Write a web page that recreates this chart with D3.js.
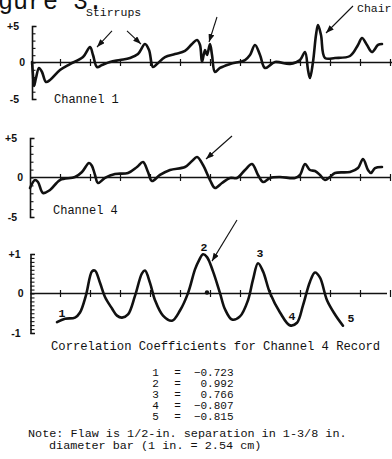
<!DOCTYPE html>
<html>
<head>
<meta charset="utf-8">
<script src="https://cdn.jsdelivr.net/npm/d3@7"></script>
<style>
  html, body { margin: 0; padding: 0; background: #fff; }
  svg { display: block; }
  text { font-family: "Liberation Mono", "DejaVu Sans Mono", monospace; fill: #111; }
</style>
</head>
<body>
<svg id="chart" width="392" height="459"></svg>
<script>
// ---- Record time base (chart divisions) ----
const xTickValues = [1, 2, 3, 4, 5, 6, 7, 8, 9, 10, 11, 12];

// ---- Channel 1 trace ----
const channel1Time = [0.067,0.1,0.133,0.2,0.3,0.4,0.533,0.667,1.0,1.333,1.767,2.0,2.1,2.233,2.4,2.667,3.0,3.333,3.6,3.833,3.967,4.1,4.233,4.5,4.833,5.167,5.4,5.567,5.667,5.733,5.833,5.9,6.0,6.067,6.167,6.333,6.667,7.167,7.333,7.5,7.667,7.833,8.167,8.667,9.0,9.167,9.267,9.333,9.433,9.533,9.6,9.7,9.833,10.167,10.667,10.933,11.067,11.233,11.4,11.6,11.733];
const channel1Amp = [0.07,-1.71,-3.22,-2.12,-0.75,-1.30,-2.67,-2.40,-1.03,-0.21,0.75,2.12,1.03,-0.62,-0.34,0.07,0.34,0.62,1.16,2.53,1.71,-0.62,-0.21,0.75,1.16,1.58,2.53,3.08,2.40,0.07,1.71,1.03,2.53,1.03,-1.30,-0.75,-0.21,0.34,1.03,2.40,1.03,-0.75,0.07,-0.21,0.34,1.44,-1.03,-2.12,0.07,3.77,5.14,3.77,0.62,0.62,0.89,2.40,3.36,2.40,1.44,2.40,2.53];

// ---- Channel 4 trace ----
const channel4Time = [0,0.167,0.267,0.433,0.667,1.0,1.5,1.733,1.967,2.067,2.167,2.267,2.5,2.833,3.267,3.567,3.767,3.933,4.067,4.333,4.667,5.167,5.4,5.567,5.767,6.0,6.167,6.4,6.667,6.9,7.167,7.4,7.6,7.767,8.0,8.333,8.833,9.0,9.167,9.333,9.5,9.667,9.833,10.0,10.167,10.667,10.933,11.1,11.267,11.367,11.5,11.733];
const channel4Amp = [-1.33,-0.32,-0.57,-1.96,-1.58,-0.32,0.06,0.70,1.84,1.46,0.32,-0.70,-0.06,0.44,0.57,1.33,1.96,0.70,-0.44,0.32,0.95,1.33,2.09,2.59,1.58,-0.32,-1.33,-0.70,-0.06,-0.06,0.95,1.71,0.32,-0.57,-0.06,0.06,-0.06,0.32,1.71,0.95,0.82,0.32,-0.32,0.06,0.57,0.70,1.20,2.34,0.95,0.57,1.20,1.33];

// ---- Correlation with the stirrup template (Channel 4) ----
const corrTime = [1.167,1.5,1.667,1.867,2.067,2.167,2.333,2.5,2.733,2.9,3.067,3.267,3.5,3.733,3.833,4.0,4.167,4.433,4.733,5.0,5.267,5.5,5.633,5.9,6.1,6.333,6.5,6.733,7.0,7.267,7.433,7.767,8.0,8.333,8.9,9.1,9.333,9.5,9.667,9.9,10.167];
const corrValue = [-0.64,-0.61,-0.48,-0.04,0.56,0.58,0.27,-0.09,-0.38,-0.56,-0.61,-0.53,-0.06,0.51,0.58,0.27,-0.17,-0.56,-0.69,-0.43,0.01,0.61,0.84,0.92,0.56,0.01,-0.40,-0.66,-0.58,-0.17,0.35,0.56,0.01,-0.48,-0.74,-0.30,0.30,0.53,0.40,-0.17,-0.53];

// Numbered extrema of the correlation curve
const coefficientIds = ["1", "2", "3", "4", "5"];
const coefficientTime = [0.9, 5.767, 7.6, 8.667, 10.433];
const coefficients = [-0.723, 0.992, 0.766, -0.807, -0.815];
const flawMarkTime = [5.9];

// ---- Axis labels ----
const ampTicks = [-5, -4, -3, -2, -1, 0, 1, 2, 3, 4, 5];
const ampLabelValues = [5, 0, -5];
const ampLabels = ["+5", "0", "-5"];
const corrTicks = d3.range(-10, 11).map(d => d / 10);
const corrLabelValues = [1, 0, -1];
const corrLabels = ["+1", "0", "-1"];

// ---- Annotations: [fromTime, fromValue, toTime, toValue] ----
const channel1Arrows = [[2.733, 4.32, 2.233, 2.12], [3.233, 4.32, 3.7, 2.53], [6.233, 6.23, 5.967, 2.81], [10.767, 7.74, 9.867, 4.04]];
const channel4Arrows = [[6.733, 5.25, 5.867, 2.34]];
const corrArrows = [[6.9, 1.86, 6.067, 0.82]];

const svg = d3.select("#chart");

svg.append("defs").append("marker")
  .attr("id", "head")
  .attr("viewBox", "0 0 8 6")
  .attr("markerUnits", "userSpaceOnUse")
  .attr("markerWidth", 8).attr("markerHeight", 6)
  .attr("refX", 8).attr("refY", 3)
  .attr("orient", "auto")
  .append("path").attr("d", "M0,0L8,3L0,6Z").attr("fill", "#111");

const x = d3.scaleLinear().domain([0, 12]).range([30, 390]);

const corrSeries = corrTime.map((t, i) => [t, corrValue[i]])
  .concat(coefficientTime.map((t, i) => [t, coefficients[i]]))
  .sort((a, b) => a[0] - b[0]);

const panels = [
  {
    series: channel1Time.map((t, i) => [t, channel1Amp[i]]),
    y: d3.scaleLinear().domain([-5, 5]).range([99, 26]),
    axisX: 32, ticks: ampTicks, labelValues: ampLabelValues, labels: ampLabels,
    labelGap: 13, tickLen: 3.5, xEnd: 12.1, arrows: channel1Arrows,
    name: "Channel 1", nameX: 54, nameY: 103
  },
  {
    series: channel4Time.map((t, i) => [t, channel4Amp[i]]),
    y: d3.scaleLinear().domain([-5, 5]).range([217, 138]),
    axisX: 30, ticks: ampTicks, labelValues: ampLabelValues, labels: ampLabels,
    labelGap: 13, tickLen: 3.5, xEnd: 12, arrows: channel4Arrows,
    name: "Channel 4", nameX: 53, nameY: 214
  },
  {
    series: corrSeries,
    y: d3.scaleLinear().domain([-1, 1]).range([333, 254]),
    axisX: 30.5, ticks: corrTicks, labelValues: corrLabelValues, labels: corrLabels,
    labelGap: 10, tickLen: 4, xEnd: 11.9, arrows: corrArrows,
    name: null
  }
];

panels.forEach(p => {
  const g = svg.append("g");

  // vertical scale: bracket with teeth toward the trace
  const yAxis = d3.axisLeft(p.y).tickValues(p.ticks)
    .tickSizeInner(-p.tickLen).tickSizeOuter(-4.5).tickFormat("");
  const ga = g.append("g").attr("transform", `translate(${p.axisX},0)`).call(yAxis);
  ga.select(".domain").attr("stroke", "#111").attr("stroke-width", 1.6);
  ga.selectAll(".tick line").attr("stroke", "#111").attr("stroke-width", 1.1);

  g.selectAll("text.ylab").data(p.labelValues).join("text")
    .attr("class", "ylab")
    .attr("x", (d) => d === 0 ? p.axisX - 7 : p.axisX - p.labelGap)
    .attr("y", d => p.y(d))
    .attr("dy", "0.36em")
    .attr("text-anchor", "end")
    .style("font-family", "'Liberation Sans', sans-serif")
    .style("font-weight", "bold")
    .style("font-size", "10.5px")
    .text((d, i) => p.labels[i]);

  // zero line with division crosses
  g.append("line")
    .attr("x1", p.axisX).attr("x2", x(p.xEnd))
    .attr("y1", p.y(0)).attr("y2", p.y(0))
    .attr("stroke", "#111").attr("stroke-width", 1.3);
  const xAxis = d3.axisBottom(x).tickValues(xTickValues).tickSize(0).tickFormat("");
  const gx = g.append("g").attr("transform", `translate(0,${p.y(0)})`).call(xAxis);
  gx.select(".domain").remove();
  gx.selectAll(".tick line").attr("y1", -3.5).attr("y2", 3.5)
    .attr("stroke", "#111").attr("stroke-width", 1.2);

  // trace
  const line = d3.line().x(d => x(d[0])).y(d => p.y(d[1]))
    .curve(d3.curveCatmullRom.alpha(0.5));
  g.append("path").datum(p.series)
    .attr("d", line)
    .attr("fill", "none")
    .attr("stroke", "#111")
    .attr("stroke-width", 2.6)
    .attr("stroke-linejoin", "round")
    .attr("stroke-linecap", "round");

  // pointer arrows
  g.selectAll("line.arrow").data(p.arrows).join("line")
    .attr("class", "arrow")
    .attr("x1", d => x(d[0])).attr("y1", d => p.y(d[1]))
    .attr("x2", d => x(d[2])).attr("y2", d => p.y(d[3]))
    .attr("stroke", "#111").attr("stroke-width", 1.1)
    .attr("marker-end", "url(#head)");

  if (p.name) {
    g.append("text").attr("x", p.nameX).attr("y", p.nameY)
      .style("font-size", "12px").text(p.name);
  }
  p.g = g;
});

// numbered extrema on the correlation curve
const corrPanel = panels[2];
const idOffsets = [[5, -5], [1, -3], [2, -6], [2, -5], [8, -4]];
corrPanel.g.selectAll("text.cid").data(coefficientIds).join("text")
  .attr("class", "cid")
  .attr("x", (d, i) => x(coefficientTime[i]) + idOffsets[i][0])
  .attr("y", (d, i) => corrPanel.y(coefficients[i]) + idOffsets[i][1])
  .attr("text-anchor", "middle")
  .style("font-size", "11.5px")
  .style("font-weight", "bold")
  .text(d => d);
corrPanel.g.selectAll("circle.flaw").data(flawMarkTime).join("circle")
  .attr("class", "flaw")
  .attr("cx", d => x(d)).attr("cy", corrPanel.y(0) - 1)
  .attr("r", 2.2).attr("fill", "#111");

// titles and notes
svg.append("text").attr("x", -32).attr("y", 8.5)
  .style("font-size", "25px").text("Figure 3.");
svg.append("text").attr("x", 86).attr("y", 16)
  .style("font-size", "11.5px").text("Stirrups");
svg.append("text").attr("x", 357).attr("y", 12)
  .style("font-size", "11.5px").text("Chair");

svg.append("text").attr("x", 51).attr("y", 350)
  .style("font-size", "12.2px")
  .text("Correlation Coefficients for Channel 4 Record");

// coefficient table
const fmt = d3.format(".3f");
const rows = svg.append("g").selectAll("g").data(coefficientIds).join("g")
  .attr("transform", (d, i) => `translate(0,${376 + i * 11})`)
  .style("font-size", "11px");
rows.append("text").attr("x", 155.5).attr("text-anchor", "middle").text(d => d);
rows.append("text").attr("x", 177.5).attr("text-anchor", "middle").text("=");
rows.append("text").attr("x", 233.5).attr("text-anchor", "end").text((d, i) => fmt(coefficients[i]));

svg.append("text").attr("x", 28).attr("y", 437)
  .style("font-size", "11.8px")
  .text("Note: Flaw is 1/2-in. separation in 1-3/8 in.");
svg.append("text").attr("x", 49).attr("y", 449)
  .style("font-size", "11.8px")
  .text("diameter bar (1 in. = 2.54 cm)");
</script>
</body>
</html>
